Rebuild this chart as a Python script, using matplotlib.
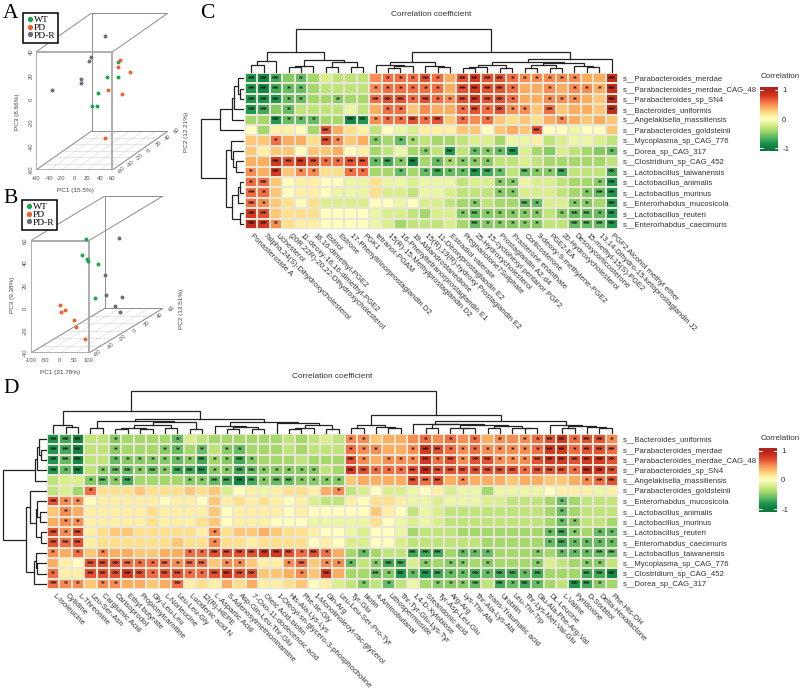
import numpy as np
import matplotlib
matplotlib.use('Agg')
import matplotlib.pyplot as plt
from matplotlib.colors import LinearSegmentedColormap
from matplotlib.lines import Line2D

W, H = 803, 695

# PCA scores, panel A
a_wt_pc1 = [17.7, 15.1, 17.7, 1.0, 6.8, 13.5]
a_wt_pc2 = [10, -10, 10, -10, -30, -30]
a_wt_pc3 = [12.5, 5.1, -0.7, -8.8, -14.3, -13.7]
a_pd_pc1 = [13.0, 17.7, 29.1, 9.9, 23.9, 34.3]
a_pd_pc2 = [20, 10, 20, 0, 10, -40]
a_pd_pc3 = [11.2, 8.0, 1.3, -8.4, -14.6, -38.7]
a_pdr_pc1 = [-9.9, -23.9, -27.0, -33.2, -33.2, -49.8]
a_pdr_pc2 = [20, 10, 10, 0, 0, -40]
a_pdr_pc3 = [31.8, 16.8, 13.4, 0.6, -2.8, 2.0]

# PCA scores, panel B
b_wt_pc1 = [26.2, 12.5, 9.5, 11.8, 24.7, 36.8]
b_wt_pc2 = [-30, -30, -20, -20, -10, -20]
b_wt_pc3 = [51.3, 37.2, 30.6, 28.3, 22.3, -4.1]
b_pd_pc1 = [-20.1, -3.0, -15.5, 7.6, 14.4, 65.2]
b_pd_pc2 = [-50, -50, -50, -40, -40, -50]
b_pd_pc3 = [-0.9, -5.4, -6.8, -17.2, -23.7, -30.9]
b_pdr_pc1 = [11.5, -12.8, -9.4, 0.5, 0.1, -6.3]
b_pdr_pc2 = [30, 20, 20, 40, 30, 40]
b_pdr_pc3 = [32.8, 2.6, -15.3, -23.4, -28.0, -36.9]

# panel C: species, metabolites, correlation in tenths, significance stars
c_rows = ['s__Parabacteroides_merdae', 's__Parabacteroides_merdae_CAG_48', 's__Parabacteroides_sp_SN4',
          's__Bacteroides_uniformis', 's__Angelakisella_massiliensis', 's__Parabacteroides_goldsteinii',
          's__Mycoplasma_sp_CAG_776', 's__Dorea_sp_CAG_317', 's__Clostridium_sp_CAG_452',
          's__Lactobacillus_taiwanensis', 's__Lactobacillus_animalis', 's__Lactobacillus_murinus',
          's__Enterorhabdus_mucosicola', 's__Lactobacillus_reuteri', 's__Enterorhabdus_caecimuris']
c_cols = ['Ponasteroside A', '7alpha,24(S)-Dihydroxycholesterol', 'Lichesterol',
          '(20R,22R)-20,22-Dihydroxycholesterol', '11-deoxy-16,16-dimethyl-PGE2', '16,16-dimethyl-PGE2',
          'Estriol', 'Estrone', '17-Phenyltrinorprostaglandin D2', 'PGK1', 'tetranor-PGAM',
          '15(R)-15-Methylprostaglandin D2', '16-Phenyltetranorprostaglandin E1', '19-Aldandrostanedione',
          '15(R),19(R)-hydroxy Prostaglandin E2', '11-Deoxyprostaglandin E2', 'Estradiol valerate',
          'Pregnanolone7Sulphate', '25-Hydroxycholesterol', '15-cyclohexyl pentanor PGF2',
          'Prostaglandin A2-d4', 'Prasterone enanthate', 'Corticosterone', '9-deoxy-9-methylene-PGE2',
          'PGE2-EA', '20-Hydroxycholesterol', 'Desoxycorticosterone', '15-methyl-15(S)-PGE2',
          '13,14-Dihydro-15-ketoprostaglandin J2', 'PGF2 Alcohol methyl ether']
c_vals = [
    [-8,-9,-7,-5,-6,-4,-2,-3,-3,-3, 5,6,6,6,7,6,4, 7,8,7,7,6,5,5,5,5,5,4,4,9],
    [-8,-9,-7,-6,-6,-4,-3,-3,-3,-3, 5,6,6,6,6,6,4, 7,8,7,7,6,4,4,5,4,5,5,4,9],
    [-8,-8,-8,-6,-6,-4,-4,-5,-4,-4, 6,7,7,6,7,6,5, 7,8,7,7,6,4,4,5,5,5,4,3,9],
    [-8,-7,-5,-6,-3,-3,-3,-3,-1,-3, 4,6,6,3,5,4,4, 6,7,6,7,5,5,3,6,3,4,4,3,9],
    [-4,-4,-8,-6,-6,-6,-4,-4,-9,-8, 5,6,6,7,6,7,3, 6,5,6,3,2,3,2,4,5,4,3,4,3],
    [0,-4,1,1,0,-4,7,4,2,1, -3,0,-1,-2,1,1,1, 3,3,0,3,4,3,7,0,0,-1,0,0,3],
    [3,3,6,4,4,2,7,5,3,4, -5,-4,-6,-4,-3,-4,-4, -3,-2,-2,-4,-1,-1,1,-3,-2,-1,-1,-2,-3],
    [3,1,3,3,0,3,3,4,0,1, -4,-3,-1,-4,-5,-3,-8, -3,-6,-5,-6,-8,-2,-4,-5,-2,-3,-4,-5,-6],
    [4,4,8,7,8,7,6,6,7,7, -6,-7,-5,-9,-4,-6,-4, -5,-5,-5,-3,-3,-2,-3,-4,-4,-4,-4,-4,-3],
    [5,4,8,3,5,5,2,2,6,6, -4,-4,-6,-4,-6,-7,-6, -6,-8,-7,-6,-3,-6,-5,-5,-7,-3,-3,-3,-7],
    [6,6,3,0,1,1,0,0,-1,-1, 2,-1,-1,-2,-1,-1,-1, -3,-2,-2,-5,-5,-1,-2,-2,-3,-4,-4,-5,-8],
    [6,6,3,0,1,1,0,-1,-1,-1, 2,-2,-2,-3,-1,-1,-2, -3,-3,-3,-5,-5,-2,-2,-2,-3,-4,-5,-6,-8],
    [6,5,3,2,0,2,-2,-2,-2,-2, 0,0,-1,0,-2,-2,-3, -4,-5,-3,-4,-4,-6,-6,-2,-2,-5,-5,-4,-8],
    [8,7,3,2,2,2,0,0,0,0, -1,-2,-2,-3,-4,-2,-2, -5,-6,-5,-5,-5,-5,-5,-3,-5,-6,-6,-6,-8],
    [9,8,5,2,1,1,0,0,0,0, -1,-2,-4,-3,-3,-3,-2, -4,-6,-5,-5,-5,-5,-5,-3,-3,-6,-6,-6,-8],
]
c_stars = [
    '2220100000 0111210 2222111111002',
    '2221100000 1111110 2222100101112',
    '2221100100 2221211 2222100111002',
    '2201000000 0110000 1212110200002',
    '0021110022 1112120 1010000010000',
    '0000002000 0000000 0000002000000',
    '0010002100 1011000 0000000000000',
    '0000000000 0000102 0111200000001',
    '0022221122 1212011 1110000000000',
    '1020110011 0010121 1221021120002',
    '1200000000 0000000 0001100000012',
    '2100000000 0000000 0001100000122',
    '2100000000 0000000 0100021001102',
    '2200000000 0000000 1211111012212',
    '2210000000 0000000 0211111002222',
]

# panel D
d_rows = ['s__Bacteroides_uniformis', 's__Parabacteroides_merdae', 's__Parabacteroides_merdae_CAG_48',
          's__Parabacteroides_sp_SN4', 's__Angelakisella_massiliensis', 's__Parabacteroides_goldsteinii',
          's__Enterorhabdus_mucosicola', 's__Lactobacillus_animalis', 's__Lactobacillus_murinus',
          's__Lactobacillus_reuteri', 's__Enterorhabdus_caecimuris', 's__Lactobacillus_taiwanensis',
          's__Mycoplasma_sp_CAG_776', 's__Clostridium_sp_CAG_452', 's__Dorea_sp_CAG_317']
d_cols = ['L-Isoleucine', 'Cytidine', 'L-Threonine', 'Leu-Ser-Asn', 'Carglumic Acid', 'Carisoprodol',
          'Ethyl butyrate', 'Propionylcarnitine', 'Gly-Leu-Leu', 'L-Norleucine', 'Leu-Leu-Gly',
          'Lucidenic acid N', '12(R)-HEPE', 'L-Aspartic Acid', 'S-Adenosylmethioninamine',
          'Asp-Gln-Leu-Thr-Glu', '7-Oxo-11-dodecenoic acid', 'Oleic Acid-biotin',
          '1-Oleoyl-sn-glycero-3-phosphocholine', 'His-Ala-Lys-Lys', 'Phe-Ile-Gly',
          '1-Monolinoleoyl-rac-glycerol', 'Gln-Arg', 'Leu-Leu-Ser-Pro-Tyr', 'Tyr-Glu', 'biotin',
          '4-Aminobutanal', 'Lithospermoside', 'Thr-Tyr-Glu-Lys-Tyr', '1,4-D-Xylobiose', 'Stearidonic acid',
          'Tyr-Asp-Leu-Glu', 'Arg-Arg', 'Lys-Thr-Ala', 'Thr-Ala-Lys-Ala', 'trans-Traumatic acid', 'Urobilin',
          'Leu-Thr-Trp', 'Thr-Lys-Met-Val-Glu', 'Glu-Ala-Phe-Arg-Val', 'DL-Leucine', 'L-Valine',
          'Pyridoxine', 'D-Sorbitol', 'Delta-Hexalactone', 'Phe-His-OH']
d_vals = [
    [-8,-7,-9, -3,-3,-5,-4,-4,-4,-4,-6,-2,-3,-4,-4,-4,-4,-4,-4,-3,-4,-3,-2,-3, 5,5,3,4,4,5,6,5,6,5,6,4,5,5,5,6,7,8,6,7,7,5],
    [-8,-7,-9, -3,-3,-5,-4,-4,-4,-5,-6,-4,-6,-3,-5,-6,-4,-4,-4,-3,-4,-3,-3,-3, 6,5,5,4,4,5,8,7,6,5,6,5,5,5,5,6,8,8,6,7,7,6],
    [-8,-6,-9, -3,-3,-6,-5,-5,-5,-5,-6,-5,-7,-4,-5,-7,-5,-4,-4,-4,-3,-4,-4,-4, 7,5,4,5,5,5,8,6,7,5,7,7,5,5,5,7,8,8,7,8,8,7],
    [-8,-6,-9, -3,-5,-6,-6,-5,-6,-5,-7,-7,-8,-5,-5,-7,-6,-5,-5,-5,-5,-5,-3,-4, 8,7,6,6,6,7,9,7,7,7,7,7,7,7,6,7,7,7,6,9,8,7],
    [-3,-2,-2, -5,-6,-5,-7,-4,-4,-4,-4,-5,-5,-6,-7,-9,-7,-5,-6,-6,-5,-5,-5,-5, 3,4,4,4,4,7,6,7,4,5,4,4,4,3,4,4,3,3,4,5,6,7],
    [-3,-2,-4, 6,2,2,2,3,2,2,2,3,2,3,-2,0,1,-1,1,2,2,1,4,5, -3,-2,0,-2,-2,-1,0,1,-2,-1,-1,-4,-1,-1,-1,-1,0,1,1,1,-1,1],
    [7,5,5, 0,1,1,1,1,1,0,1,1,0,3,1,2,1,2,1,0,1,-2,-3,-3, 1,0,2,2,1,-1,-1,-2,-1,-1,-1,-2,-2,-3,-3,-3,-4,-6,-4,-3,-3,-3],
    [3,5,4, 1,1,1,1,1,2,1,1,1,1,3,0,1,1,1,1,0,1,0,0,0, 0,0,3,1,0,-3,-1,-2,-3,-3,-3,-3,-3,-3,-3,-3,-4,-6,-4,-3,-3,-3],
    [4,5,5, 1,1,1,1,1,2,1,1,1,2,3,0,1,1,1,0,0,0,-1,-1,-1, -1,-1,2,0,-1,-2,-1,-2,-3,-3,-3,-3,-3,-3,-3,-3,-4,-6,-5,-3,-3,-4],
    [7,5,7, 1,2,3,3,2,2,2,2,2,1,5,2,3,3,4,3,2,2,1,0,0, -1,-2,0,0,-1,-4,-3,-3,-3,-4,-4,-4,-4,-4,-4,-4,-6,-7,-5,-4,-6,-6],
    [7,6,7, 1,2,2,2,2,2,2,3,2,2,5,2,2,1,2,2,2,2,0,1,0, -2,-2,0,0,-2,-3,-3,-3,-3,-3,-3,-4,-4,-4,-4,-4,-6,-7,-6,-6,-6,-6],
    [5,4,6, 3,5,4,4,3,3,4,4,6,6,7,7,7,7,8,8,7,6,7,6,4, -4,-6,-4,-3,-3,-7,-7,-7,-4,-6,-6,-6,-4,-4,-4,-5,-4,-6,-6,-6,-6,-6],
    [4,1,0, 7,7,7,6,6,6,6,5,6,6,3,5,5,3,1,1,5,6,3,5,5, -6,-3,-5,-7,-7,-2,-5,-4,-5,-5,-4,-5,-4,-4,-4,-5,-2,-3,-4,-5,-5,-3],
    [6,1,1, 7,7,7,8,7,6,7,7,6,6,7,8,7,7,3,3,4,5,3,8,4, -4,-4,-6,-5,-8,-6,-8,-7,-6,-6,-7,-6,-7,-7,-6,-7,-4,-4,-4,-7,-7,-9],
    [6,5,5, 3,5,5,4,4,3,4,6,1,2,1,4,2,4,1,1,2,3,0,1,-2, -3,-5,-3,-6,-3,-1,-4,-5,-5,-5,-6,-3,-7,-6,-7,-6,-4,-3,-8,-7,-5,-4],
]
d_stars = [
    '222 001000010000000000000 1100001010101011221221',
    '222 001000110101100000000 1110012211111111221222',
    '222 001111111211210000000 2101112121221112222222',
    '212 012212122211221111100 2211122222222212221222',
    '000 121200001122221221111 0000022201000000000122',
    '000 100000000000000000001 0000000000000000000000',
    '211 000000000000000000000 0000000000000000010000',
    '010 000000000000000000000 0000000000000000010000',
    '011 000000000000000000000 0000000000000000011000',
    '212 000000000010000000000 0000000000000000121011',
    '222 000000000010000000000 0000000000000000121111',
    '101 010000001122222221210 0100022201110001011122',
    '000 222211212201100012011 1012201011010001000110',
    '100 222221221122220001020 0021212211212212000222',
    '211 011000020000000000000 0101000111202121002210',
]

# dendrograms as (height, left, right); a leaf is its 1-based position
c_top = (44,
         (20, (11, (7, 1, 2), 3),
          (12, (6, (5, 4, 5), 6), (10, (5, 7, 8), (5, 9, 10)))),
         (20, (10, (7, 11, (6, (4, 12, 13), 14)), (6, 15, (5, 16, 17))),
          (13, (10, (7, (5, (4, 18, 19), 20), (4, 21, 22)),
                (8.5, (7, (4, 23, 24), (4, 25, 26)), (5.5, 27, (5, 28, 29)))), 30)))
c_left = (44,
          (24, (12, (10, (6, 1, (4, 2, 3)), 4), 5), 6),
          (18, (12.5, 7, (10.5, 8, (8, 9, 10))),
           (12, (6, (3.5, 11, 12), 13), (3.5, 14, 15))))
d_top = (43,
         (22, (8, 1, (6, 2, 3)),
          (14, (12, (5, 4, 5), (11, (7.5, (5, (4, 6, 7), (4, 8, 9)), (4.5, 10, 11)), (4, 12, 13))),
           (11, (7, 14, (6, (4, 15, 16), (4, 17, 18))),
            (10, 19, (8, (5, (4, 20, 21), 22), (4, 23, 24)))))),
         (18, (8, (5, 25, 26), (5.5, 27, (5, 28, 29))),
          (12, (9, 30, (8.5, (5, 31, 32), (8, (5, 33, (4.5, 34, 35)),
                                           (6.5, (4.5, 36, 37), (5, 38, (4.5, 39, 40)))))),
           (7.5, 41, (7, (5, 42, 43), (5.5, 44, (4.5, 45, 46)))))))
d_left = (44,
          (11, (9, (6.5, 1, (4.5, 2, 3)), 4), 5),
          (20, (16, 6, (10, (8.5, 7, (6, 8, 9)), (5, 10, 11))),
           (11.5, (10, 12, (9, 13, 14)), 15)))

SANS = 'Liberation Sans'
SERIF = 'Liberation Serif'
TXT = '#333333'
COL_WT, COL_PD, COL_PDR = '#1ba64b', '#f0622d', '#6c6c7c'
CMAP = LinearSegmentedColormap.from_list(
    'corr', ['#0b7a3b', '#1f9a50', '#66bd63', '#a6d96a', '#d9ef8b', '#ffffbf',
             '#fee08b', '#fdae61', '#f46d43', '#d9381f', '#b3241b'])


def px_axes(fig, x0, y0, x1, y1):
    ax = fig.add_axes([x0 / W, 1 - y1 / H, (x1 - x0) / W, (y1 - y0) / H])
    return ax


def draw_tree(ax, node, side):
    if not isinstance(node, tuple):
        return node - 0.5, 0
    h, left, right = node
    p1, h1 = draw_tree(ax, left, side)
    p2, h2 = draw_tree(ax, right, side)
    pos = [p1, p1, p2, p2]
    hts = [h1, h, h, h2]
    if side == 'top':
        ax.plot(pos, hts, color='#222222', lw=0.9, solid_joinstyle='miter', clip_on=False)
    else:
        ax.plot(hts, pos, color='#222222', lw=0.9, solid_joinstyle='miter', clip_on=False)
    return (p1 + p2) / 2, h


def heatmap(fig, rect, vals, stars, rows, cols, top_tree, left_tree, title, title_x, title_y, left_x, top_y):
    x0, y0, x1, y1 = rect
    vals = np.array(vals) / 10
    ax = px_axes(fig, x0, y0, x1, y1)
    ax.pcolormesh(vals, cmap=CMAP, vmin=-1, vmax=1, edgecolors='#e9e6d6', linewidth=0.2)
    ax.set_ylim(len(rows), 0)
    ax.set_xlim(0, len(cols))
    ax.yaxis.tick_right()
    ax.set_yticks(np.arange(len(rows)) + 0.5)
    ax.set_yticklabels(rows, fontsize=5.55, family=SANS, color=TXT)
    ax.set_xticks(np.arange(len(cols)) + 0.5)
    ax.set_xticklabels(cols, rotation=-45, ha='left', va='center', rotation_mode='anchor',
                       fontsize=5.55, family=SANS, color=TXT)
    ax.tick_params(axis='y', length=0, pad=3.5)
    ax.tick_params(axis='x', length=0, pad=4)
    for s in ax.spines.values():
        s.set_visible(False)
    for r, line in enumerate(stars):
        line = line.replace(' ', '')
        assert len(line) == len(cols)
        for c, n in enumerate(line):
            if n != '0':
                ax.text(c + 0.5, r + 0.55, '*' * int(n), ha='center', va='center', fontsize=5.2,
                        family='DejaVu Sans', fontweight='bold', color='#111111')
    tx = px_axes(fig, x0, top_y, x1, y0 - 1.5)
    draw_tree(tx, top_tree, 'top')
    tx.set_xlim(0, len(cols))
    tx.set_ylim(0, top_tree[0])
    tx.axis('off')
    lx = px_axes(fig, left_x, y0, x0 - 1.5, y1)
    draw_tree(lx, left_tree, 'left')
    lx.set_ylim(len(rows), 0)
    lx.set_xlim(left_tree[0], 0)
    lx.axis('off')
    fig.text(title_x / W, 1 - title_y / H, title, ha='center', va='center', fontsize=5.95,
             family=SANS, color=TXT)


def colorbar(fig, x0, y0, x1, y1, title_y):
    ax = px_axes(fig, x0, y0, x1, y1)
    grad = np.linspace(1.1, -1.1, 200).reshape(-1, 1)
    ax.imshow(grad, aspect='auto', cmap=CMAP, vmin=-1, vmax=1, extent=[0, 1, -1.1, 1.1])
    ax.yaxis.tick_right()
    ax.set_yticks([1, 0, -1])
    ax.set_yticklabels(['1', '0', '-1'], fontsize=5.6, family=SANS, color=TXT)
    ax.tick_params(length=0, pad=3)
    ax.set_xticks([])
    for s in ax.spines.values():
        s.set_visible(False)
    for v in [1, 0, -1]:
        ax.plot([0, 0.18], [v, v], color='white', lw=0.7)
        ax.plot([0.82, 1], [v, v], color='white', lw=0.7)
    ax.set_xlim(0, 1)
    ax.set_ylim(-1.1, 1.1)
    fig.text(761 / W, 1 - title_y / H, 'Correlation', ha='left', va='center', fontsize=5.8,
             family=SANS, color=TXT)


def pca_panel(fig, rect, xr, yr, zr, xticks, yticks, zticks, groups, k, legend_pos, label_pos):
    x0, y0, x1, y1 = rect
    ax = px_axes(fig, x0, y0, x1, y1)
    # oblique projection, depth axis shifted right and up
    kx, ky = k

    def proj(x, y, z):
        d = np.asarray(y, dtype=float) - yr[0]
        return np.asarray(x, dtype=float) + kx * d, np.asarray(z, dtype=float) + ky * d

    def seg(p, q, **kw):
        u, v = proj(*zip(p, q))
        ax.plot(u, v, **kw)

    # floor grid
    for t in xticks:
        seg((t, yr[0], zr[0]), (t, yr[1], zr[0]), color='#dddddd', lw=0.5)
    for t in yticks:
        seg((xr[0], t, zr[0]), (xr[1], t, zr[0]), color='#dddddd', lw=0.5)
    back = dict(color='#8d8d8d', lw=0.7)
    front = dict(color='#a8a8a8', lw=1.3)
    # back face and connecting edges
    for a, b in [((0, 1, 0), (1, 1, 0)), ((1, 1, 0), (1, 1, 1)), ((1, 1, 1), (0, 1, 1)), ((0, 1, 1), (0, 1, 0)),
                 ((0, 0, 0), (0, 1, 0)), ((1, 0, 0), (1, 1, 0)), ((0, 0, 1), (0, 1, 1)), ((1, 0, 1), (1, 1, 1))]:
        seg((xr[a[0]], yr[a[1]], zr[a[2]]), (xr[b[0]], yr[b[1]], zr[b[2]]), **back)
    for (px, py, pz), col in groups:
        u, v = proj(px, py, pz)
        ax.scatter(u, v, s=8, color=col, zorder=4, linewidths=0)
    for a, b in [((0, 0, 0), (1, 0, 0)), ((1, 0, 0), (1, 0, 1)), ((1, 0, 1), (0, 0, 1)), ((0, 0, 1), (0, 0, 0))]:
        seg((xr[a[0]], yr[a[1]], zr[a[2]]), (xr[b[0]], yr[b[1]], zr[b[2]]), **front)
    ax.set_xlim(xr[0], xr[1] + kx * (yr[1] - yr[0]))
    ax.set_ylim(zr[0], zr[1] + ky * (yr[1] - yr[0]))
    ax.axis('off')
    tk = dict(fontsize=4.2, family=SANS, color='#555555', annotation_clip=False, textcoords='offset pixels')
    for t in xticks:
        u, v = proj(t, yr[0], zr[0])
        ax.annotate(str(t), (u, v), xytext=(0, -8), ha='center', va='center', **tk)
    for t in zticks:
        u, v = proj(xr[0], yr[0], t)
        ax.annotate(str(t), (u, v), xytext=(-5, 0), ha='center', va='center', rotation=90, **tk)
    for t in yticks:
        u, v = proj(xr[1], t, zr[0])
        ax.annotate(str(t), (u, v), xytext=(9, 0), ha='center', va='center', rotation=45, **tk)
    for (lx, ly, txt, rot) in label_pos:
        fig.text(lx / W, 1 - ly / H, txt, ha='center', va='center', rotation=rot, fontsize=4.6,
                 family=SANS, color='#444444')
    handles = [Line2D([], [], ls='', marker='o', ms=2.8, color=c) for c in [COL_WT, COL_PD, COL_PDR]]
    leg = fig.legend(handles, ['WT', 'PD', 'PD-R'], loc='upper left',
                     bbox_to_anchor=(legend_pos[0] / W, 1 - legend_pos[1] / H),
                     prop={'family': SERIF, 'size': 6.8}, frameon=True, fancybox=False, edgecolor='black',
                     framealpha=1, borderpad=0.3, labelspacing=-0.1, handletextpad=0.05, handlelength=0.8,
                     borderaxespad=0)
    leg.get_frame().set_linewidth(1.1)


fig = plt.figure(figsize=(W / 100, H / 100), dpi=100)

pca_panel(fig, (36, 13, 168, 170), (-60, 60), (-60, 60), (-60, 40),
          [-60, -40, -20, 0, 20, 40, 60], [-60, -40, -20, 0, 20, 40, 60], [-60, -40, -20, 0, 20, 40],
          [((a_wt_pc1, a_wt_pc2, a_wt_pc3), COL_WT), ((a_pd_pc1, a_pd_pc2, a_pd_pc3), COL_PD),
           ((a_pdr_pc1, a_pdr_pc2, a_pdr_pc3), COL_PDR)],
          (0.727, 0.275), (23, 13),
          [(75, 190, 'PC1 (15.5%)', 0), (17, 112, 'PC3 (8.66%)', 90), (187, 132, 'PC2 (12.21%)', 90)])
pca_panel(fig, (30.7, 196, 163, 353), (-100, 100), (-60, 60), (-40, 60),
          [-100, -50, 0, 50, 100], [-60, -40, -20, 0, 20, 40, 60], [-40, -20, 0, 20, 40, 60],
          [((b_wt_pc1, b_wt_pc2, b_wt_pc3), COL_WT), ((b_pd_pc1, b_pd_pc2, b_pd_pc3), COL_PD),
           ((b_pdr_pc1, b_pdr_pc2, b_pdr_pc3), COL_PDR)],
          (2.12, 0.331), (22, 200),
          [(60, 373, 'PC1 (21.78%)', 0), (13, 295, 'PC3 (9.38%)', 90), (182, 309, 'PC2 (13.51%)', 90)])

heatmap(fig, (245, 73, 618, 229), c_vals, c_stars, c_rows, c_cols, c_top, c_left,
        'Correlation coefficient', 431, 15, 201, 29)
colorbar(fig, 760, 87, 778, 151, 77)

heatmap(fig, (47, 434, 618, 589), d_vals, d_stars, d_rows, d_cols, d_top, d_left,
        'Correlation coefficient', 332, 376, 3, 391)
colorbar(fig, 759, 448, 777, 512, 438)

for letter, lx, ly in [('A', 3, 18), ('B', 3, 203), ('C', 200, 18), ('D', 3, 393)]:
    fig.text(lx / W, 1 - ly / H, letter, ha='left', va='baseline', fontsize=15.5, family=SERIF, color='black')

fig.savefig('out.png', dpi=100)
